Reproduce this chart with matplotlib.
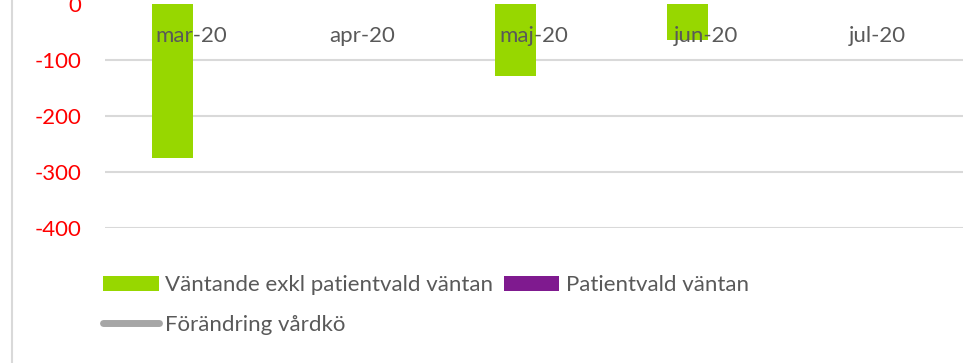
import matplotlib
matplotlib.use("Agg")
import matplotlib.pyplot as plt
from matplotlib.patches import Patch
from matplotlib.lines import Line2D
import numpy as np

plt.rcParams['font.family'] = ['Lato', 'DejaVu Sans']
plt.rcParams['axes.unicode_minus'] = False

months = ['mar-20', 'apr-20', 'maj-20', 'jun-20', 'jul-20']
vantande = [-275, 0, -129, -64, 0]       # väntande exkl patientvald väntan
patientvald = [0, 0, 0, 0, 0]            # patientvald väntan
yticks = [-400, -300, -200, -100, 0]

green = '#97d700'
purple = '#7f1a8f'
linegray = '#a6a6a6'
textgray = '#595959'
gridgray = '#d9d9d9'
fs = 16

W, H = 969, 363
fig = plt.figure(figsize=(W / 100, H / 100), dpi=100)
ax = fig.add_axes([105 / W, (H - 228) / H, 858 / W, 228 / H])
ax.set_axisbelow(False)   # labels go on top of the bars

x = np.arange(len(months))
bw = 0.239
ax.bar(x - 0.108, vantande, width=bw, color=green, zorder=2)
ax.bar(x + 0.108, patientvald, width=bw, color=purple, zorder=2)

ax.set_xlim(-0.5, len(months) - 0.5)
ax.set_ylim(-400, 4 / 0.56)
ax.set_yticks(yticks)
ax.set_yticklabels([str(v) for v in yticks], color='red', fontsize=fs)
ax.tick_params(axis='y', length=0, pad=17)

# category labels sit just under the zero line
ax.spines['bottom'].set_position(('data', 0))
ax.set_xticks(x)
ax.set_xticklabels(months, color=textgray, fontsize=fs)
ax.tick_params(axis='x', length=0, pad=15.5)

for s in ax.spines.values():
    s.set_visible(False)
for v in yticks[:-1]:
    ax.axhline(v, color=gridgray, lw=1.5, zorder=1)

# chart border on the left
fig.add_artist(Line2D([12 / W, 12 / W], [0, 1], color=gridgray, lw=1.5))

handles = [
    Patch(facecolor=green, label='Väntande exkl patientvald väntan'),
    Line2D([], [], color=linegray, lw=5, solid_capstyle='round', label='Förändring vårdkö'),
    Patch(facecolor=purple, label='Patientvald väntan'),
]
fig.legend(handles=handles, loc='upper left', bbox_to_anchor=(103 / W, (H - 275) / H),
           ncol=2, frameon=False, fontsize=fs, labelcolor=textgray,
           handlelength=2.5, handleheight=0.68, handletextpad=0.28,
           columnspacing=0.5, labelspacing=0.9, borderpad=0, borderaxespad=0)

fig.savefig('out.png', dpi=100)
